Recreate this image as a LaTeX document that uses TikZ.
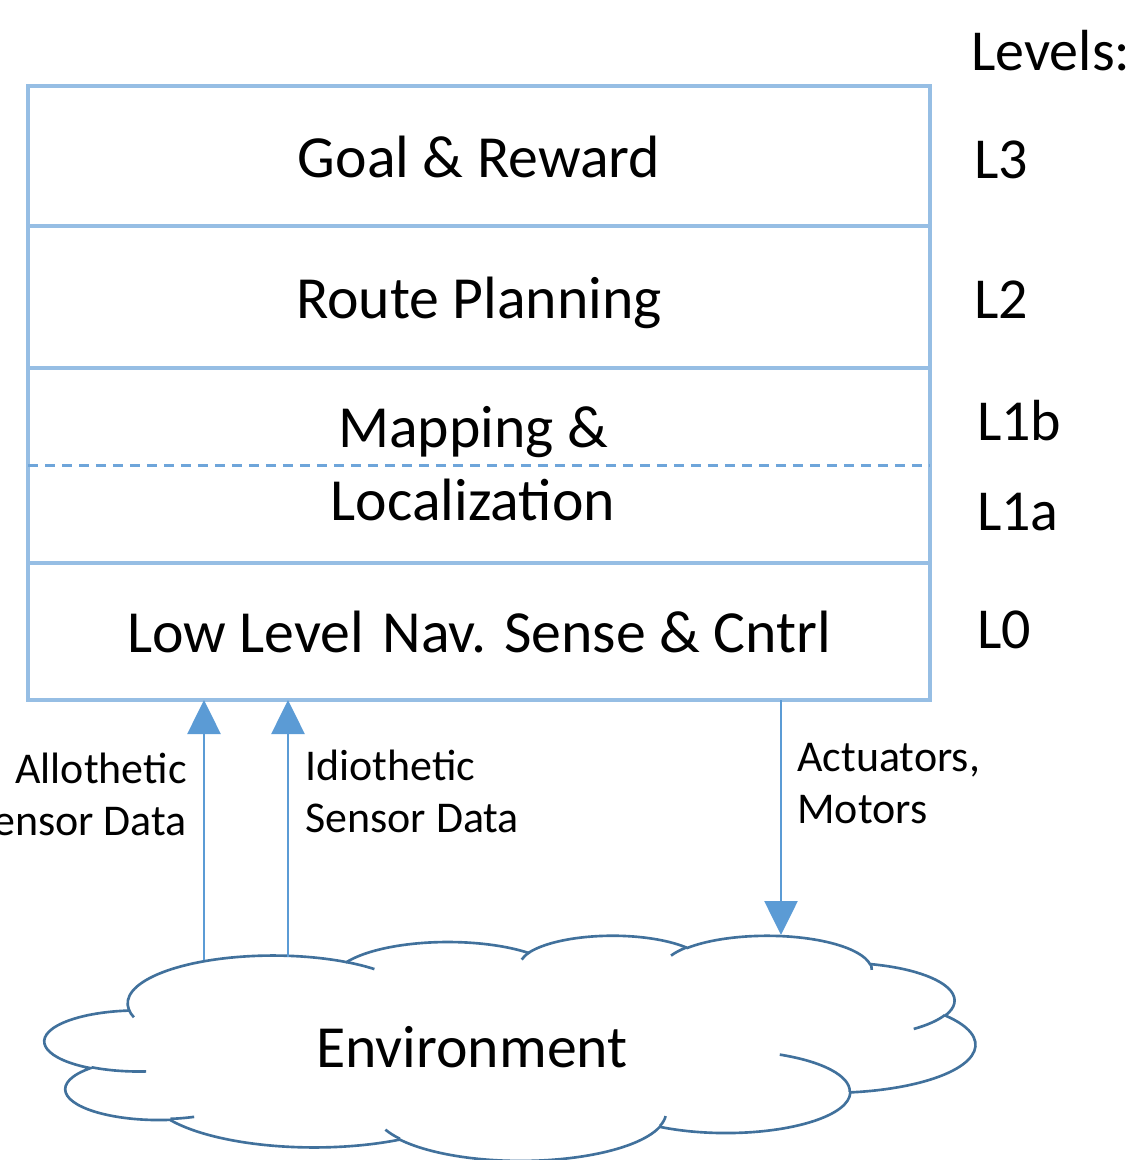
\documentclass[tikz,border=0pt]{standalone}
\usepackage{fontspec}
\setmainfont{Carlito}
\usetikzlibrary{arrows.meta, positioning}

\definecolor{boxblue}{RGB}{150,190,228}
\definecolor{arrowblue}{RGB}{91,155,213}
\definecolor{dashblue}{RGB}{110,165,218}
\definecolor{cloudblue}{RGB}{65,113,156}

% one puff of the cloud: x radius, y radius, start angle, sweep (angles as seen)
\newcommand{\cloudarc}[4]{arc[x radius=#1, y radius=#2,
  start angle={atan2((#1)*sin(#3),(#2)*cos(#3))},
  delta angle={mod(atan2((#1)*sin((#3)+(#4)),(#2)*cos((#3)+(#4)))-atan2((#1)*sin(#3),(#2)*cos(#3))+720,360)}]}

\begin{document}
\begin{tikzpicture}[>=Stealth,
    layer/.style={draw=boxblue, line width=2pt, outer sep=0pt, minimum width=18.04cm,
      font=\fontsize{34}{40}\selectfont, text height=1.05cm, text depth=0.21cm},
    level/.style={anchor=base west, font=\fontsize{33}{40}\selectfont},
    io/.style={font=\fontsize{25}{29.5}\selectfont, inner sep=0pt},
    flow/.style={draw=arrowblue, line width=1.5pt,
      -{Triangle[width=0.66cm,length=0.68cm]}},
    cloud line/.style={draw=cloudblue, line width=1.5pt}]

  \useasboundingbox (0,0) rectangle (22.78,-23.2);

  % === Layer stack ===
  \node[layer, minimum height=2.8cm, anchor=north west] (l3) at (0.56,-1.72) {Goal \& Reward};
  \node[layer, minimum height=2.84cm, below=0pt of l3] (l2) {Route Planning};
  \node[layer, minimum height=3.9cm, below=0pt of l2] (l1) {};
  \node[layer, minimum height=2.74cm, below=0pt of l1] (l0) {Low Level\kern0.1cm{} Nav. Sense \& Cntrl};

  % split of L1 into b/a
  \draw[dashblue, line width=1.4pt, dash pattern=on 0.2cm off 0.14cm] (l1.west) -- (l1.east);
  \node[anchor=base, font=\fontsize{34}{40}\selectfont] (map) at ([xshift=-0.12cm, yshift=0.37cm]l1.center) {Mapping \&};
  \node[anchor=base, font=\fontsize{34}{40}\selectfont] (loc) at ([xshift=-0.12cm, yshift=-1.09cm]l1.center) {Localization};

  % === Level labels ===
  \node[level] (lv)  at (19.30,-1.40) {Levels:};
  \node[level] (lv3) at (19.36,-3.56) {L3};
  \node[level] (lv2) at (19.36,-6.36) {L2};
  \node[level] (lv1b) at (19.42,-8.80) {L1b};
  \node[level] (lv1a) at (19.42,-10.60) {L1a};
  \node[level] (lv0) at (19.42,-12.96) {L0};

  % === Environment cloud ===
  \begin{scope}[shift={(0.9,-18.7)}, x=0.043056cm, y=-0.010417cm]
    \draw[cloud line, fill=white] (39.00,143.70)
      \cloudarc{67.53}{91.90}{-190.48748}{123.78053}
      \cloudarc{53.33}{72.67}{-144.10238}{89.94523}
      \cloudarc{43.65}{59.45}{-145.80792}{99.72302}
      \cloudarc{48.57}{65.95}{-130.98607}{117.24173}
      \cloudarc{53.33}{72.73}{-78.70888}{109.02692}
      \cloudarc{67.75}{92.20}{-46.26725}{130.269}
      \cloudarc{57.85}{78.67}{0.62502}{114.03333}
      \cloudarc{67.52}{92.15}{22.4516}{115.17255}
      \cloudarc{77.20}{105.43}{66.24263}{75.71102}
      \cloudarc{43.60}{59.18}{-274.94208}{146.73557}
      \cloudarc{43.45}{59.45}{-246.8285}{152.51885}
      -- cycle;
    % inner folds
    \draw[cloud line]
      (46.93,261.77) \cloudarc{43.45}{59.45}{86.742}{26.4295}
      (69.28,348.99) \cloudarc{43.60}{59.18}{73.6105}{11.4475}
      (164.78,390.90) \cloudarc{67.52}{92.15}{137.6242}{14.0811}
      (288.27,347.51) \cloudarc{67.52}{92.15}{6.4533}{15.9984}
      (341.29,229.54) \cloudarc{57.85}{78.67}{-70.2924}{70.9174}
      (417.98,153.54) \cloudarc{53.33}{72.73}{30.3180}{27.7515}
      (383.24,54.26) \cloudarc{48.57}{65.95}{-13.7443}{14.8589}
      (290.78,39.52) \cloudarc{48.57}{65.95}{-149.1815}{18.1954}
      (221.41,47.20) \cloudarc{43.65}{59.45}{-163.4943}{17.6864}
      (140.00,51.92) \cloudarc{67.53}{91.90}{-66.7070}{12.3194}
      (41.27,157.89) \cloudarc{67.53}{91.90}{157.6544}{11.8582};
  \end{scope}
  \node[anchor=base, font=\fontsize{34}{40}\selectfont] (env) at (9.44,-21.34) {Environment};

  % === Sensor and motor flows ===
  \coordinate (allo) at (4.08,-19.2);
  \coordinate (idio) at (5.76,-19.14);
  \coordinate (act)  at (15.62,-18.7);
  \draw[flow] (allo) -- (allo |- l0.south);
  \draw[flow] (idio) -- (idio |- l0.south);
  \draw[flow] (act |- l0.south) -- (act);

  \node[io, align=right, anchor=base east] (allotxt) at (3.74,-16.7) {Allothetic\\Sensor Data};
  \node[io, align=left, anchor=base west] (idiotxt) at (6.10,-16.64) {Idiothetic\\Sensor Data};
  \node[io, align=left, anchor=base west] (acttxt) at (15.94,-16.46) {Actuators,\\Motors};

\end{tikzpicture}
\end{document}
